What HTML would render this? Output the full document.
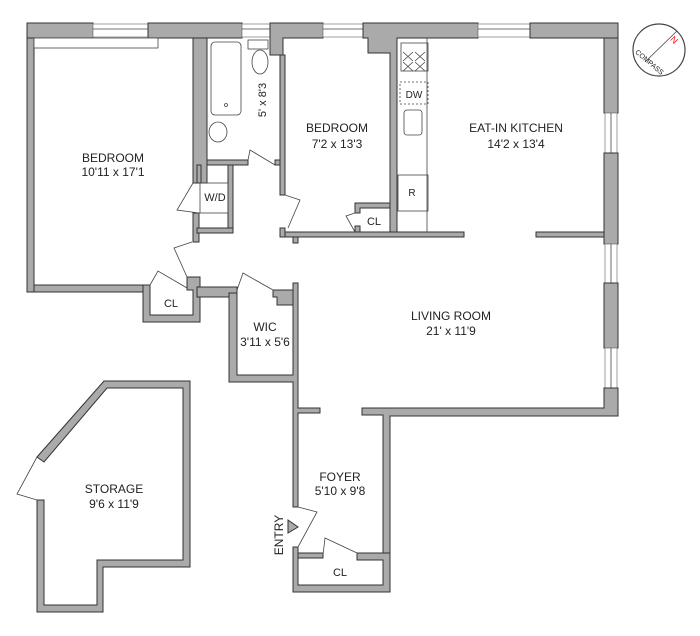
<!DOCTYPE html>
<html><head><meta charset="utf-8"><style>
html,body{margin:0;padding:0;background:#fff;width:700px;height:636px;overflow:hidden}
svg text{font-family:"Liberation Sans",Arial,sans-serif;font-size:12px;fill:#222;text-anchor:middle}
.w{fill:#aaa;stroke:#333;stroke-width:1}
.l{fill:none;stroke:#444;stroke-width:0.8}
.win{fill:#fff;stroke:#888;stroke-width:0.8}
</style></head><body>
<svg width="700" height="636" viewBox="0 0 700 636" xmlns="http://www.w3.org/2000/svg">
<!-- top walls -->
<rect class="w" x="27" y="23" width="66" height="15"/>
<rect class="win" x="93" y="24" width="55" height="13"/><line class="l" x1="93" y1="29" x2="148" y2="29"/>
<rect class="w" x="148" y="23" width="94" height="15"/>
<rect class="win" x="242" y="24" width="28" height="13"/><line class="l" x1="242" y1="29" x2="270" y2="29"/>
<path class="w" d="M270 23H323V38H283V55H270Z"/>
<rect class="win" x="323" y="24" width="40" height="13"/><line class="l" x1="323" y1="29" x2="363" y2="29"/>
<path class="w" d="M363 23H478V38H397V232H390V53H368V38H363Z"/>
<rect class="win" x="478" y="24" width="52" height="13"/><line class="l" x1="478" y1="29" x2="530" y2="29"/>
<rect class="w" x="530" y="23" width="88" height="15"/>
<!-- right wall -->
<rect class="w" x="604" y="38" width="14" height="75"/>
<rect class="win" x="605" y="113" width="12" height="40"/><line class="l" x1="611" y1="113" x2="611" y2="153"/>
<rect class="w" x="604" y="153" width="14" height="91"/>
<rect class="win" x="605" y="244" width="12" height="39"/><line class="l" x1="611" y1="244" x2="611" y2="283"/>
<rect class="w" x="604" y="283" width="14" height="65"/>
<rect class="win" x="605" y="348" width="12" height="40"/><line class="l" x1="611" y1="348" x2="611" y2="388"/>
<path class="w" d="M604 388H618V416H390V592H383V415H362V408H604Z"/>
<!-- kitchen lower walls -->
<rect class="w" x="536" y="232" width="68" height="5"/>
<rect class="w" x="280" y="232" width="184" height="5"/>
<rect class="w" x="293" y="237" width="5" height="6"/>
<!-- bedroom2 closet -->
<path class="w" d="M355 203H390V208H360V213H355Z"/>
<rect class="w" x="355" y="226" width="5" height="6"/>
<!-- bedroom1 -->
<rect class="w" x="27" y="38" width="7" height="254"/>
<rect class="l" x="34" y="38" width="124" height="10" style="fill:#fff"/>
<rect class="w" x="34" y="285" width="114" height="7"/>
<path class="w" d="M143 285H150V315H193V290H187V277H200V322H143Z"/>
<!-- bath / wd walls -->
<rect class="w" x="193" y="38" width="14" height="145"/>
<rect class="w" x="207" y="160" width="41" height="5"/>
<rect class="w" x="275" y="160" width="8" height="5"/>
<rect class="w" x="280" y="55" width="5" height="140"/>
<rect class="w" x="280" y="228" width="5" height="9"/>
<rect class="w" x="193" y="213" width="6" height="29"/>
<rect class="w" x="228" y="165" width="5" height="68"/>
<rect class="w" x="197" y="228" width="36" height="5"/>
<rect class="w" x="197" y="165" width="4" height="18"/>
<!-- WIC -->
<rect class="w" x="197" y="287" width="40" height="10"/>
<path class="w" d="M229 293H237V375H293V283H298V408H320V413H298V507H293V382H229Z"/>
<path class="w" d="M273 290H293V305H277V297H273Z"/>
<!-- foyer -->
<path class="w" d="M293 547H298V585H383V560H357V553H390V592H293Z"/>
<rect class="w" x="298" y="553" width="25" height="5"/>
<!-- storage -->
<path class="w" d="M37 457L104 381H190V567H103V612H37V500H44V605H97V560H183V388H107L44 462Z"/>
<!-- doors -->
<path class="l" d="M193 183L177 210L199 213"/>
<path class="l" d="M192 242L174 248L187 277"/>
<path class="l" d="M150 285L158 271L187 288"/>
<path class="l" d="M248 160L250 150L275 165"/>
<path class="l" d="M285 195L300 200L288 228"/>
<path class="l" d="M355 213L346 216L355 232"/>
<path class="l" d="M237 290L243 273L273 290"/>
<path class="l" d="M298 507L317 512L298 547"/>
<path class="l" d="M323 555L325 538L357 553"/>
<path class="l" d="M37 500L17 494L37 457"/>
<!-- fixtures -->
<rect class="l" x="211" y="42" width="30" height="73" rx="4"/>
<circle class="l" cx="226" cy="105" r="1.5"/>
<rect class="l" x="248" y="40" width="20" height="9"/>
<ellipse class="l" cx="260" cy="62" rx="8" ry="12"/>
<ellipse class="l" cx="218" cy="132" rx="9" ry="10"/>
<rect class="l" x="200" y="183" width="28" height="30"/>
<line class="l" x1="427" y1="38" x2="427" y2="232"/>
<rect class="l" x="401" y="43" width="27" height="28"/>
<path class="l" d="M403 52L413 61M413 52L403 61M415 52L425 61M425 52L415 61M403 62L413 71M413 62L403 71M415 62L425 71M425 62L415 71"/>
<rect class="l" x="400" y="82" width="28" height="22" style="stroke-dasharray:2 2"/>
<rect class="l" x="404" y="110" width="18" height="25" rx="3"/>
<rect class="l" x="398" y="175" width="30" height="36"/>
<!-- compass -->
<circle class="l" cx="659" cy="50" r="26" style="stroke-width:1.2"/>
<line class="l" x1="645" y1="62" x2="677" y2="31"/>
<text x="672" y="42" style="fill:#e22;font-size:9px" transform="rotate(45 672 42)">N</text>
<text x="648" y="64" style="font-size:7px" transform="rotate(40 648 64)">COMPASS</text>
<!-- entry arrow -->
<path d="M288 520L298 527L288 533Z" fill="#aaa" stroke="#333"/>
<!-- labels -->
<text x="113" y="162">BEDROOM</text><text x="113" y="176">10'11 x 17'1</text>
<text x="337" y="132">BEDROOM</text><text x="337" y="148">7'2 x 13'3</text>
<text x="516" y="132">EAT-IN KITCHEN</text><text x="516" y="148">14'2 x 13'4</text>
<text x="451" y="320">LIVING ROOM</text><text x="451" y="335">21' x 11'9</text>
<text x="265" y="331">WIC</text><text x="265" y="346">3'11 x 5'6</text>
<text x="114" y="493">STORAGE</text><text x="114" y="508">9'6 x 11'9</text>
<text x="340" y="481">FOYER</text><text x="340" y="495">5'10 x 9'8</text>
<text x="215" y="201" style="font-size:11px">W/D</text>
<text x="171" y="307" style="font-size:11px">CL</text>
<text x="374" y="225" style="font-size:11px">CL</text>
<text x="412" y="196" style="font-size:10px">R</text>
<text x="414" y="98" style="font-size:10px">DW</text>
<text x="340" y="576" style="font-size:11px">CL</text>
<text x="283" y="535" transform="rotate(-90 283 535)">ENTRY</text>
<text x="266" y="100" style="font-size:11px" transform="rotate(-90 266 100)">5' x 8'3</text>
</svg>
</body></html>
